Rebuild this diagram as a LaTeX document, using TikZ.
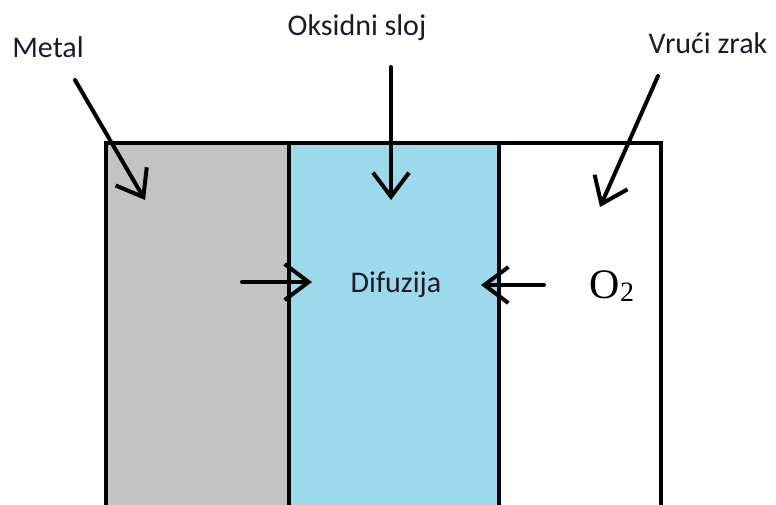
\documentclass[tikz,border=0pt]{standalone}
\usepackage{fontspec}
\setmainfont{Carlito}
\newfontfamily\serifO{Liberation Serif}
\usetikzlibrary{arrows.meta}
\definecolor{metalgray}{HTML}{C3C3C3}
\definecolor{oxideblue}{HTML}{9CD9EA}
\definecolor{labeltext}{HTML}{1A1A2A}
\tikzset{
  lbl/.style={font=\fontsize{30}{30}\selectfont, text=labeltext, inner sep=0pt, anchor=base},
  pointer/.style={line width=4pt, line cap=round, line join=round,
    -{Straight Barb[length=24pt,width=36pt]}},
  wall/.style={line width=4pt, draw=black}
}
\begin{document}
\begin{tikzpicture}[x=1pt,y=-1pt]
\useasboundingbox (0,0) rectangle (776,504);
% layers
\fill[metalgray] (106,143) rectangle (288.5,510);
\fill[oxideblue] (288.5,143) rectangle (498.5,510);
\fill[white] (498.5,143) rectangle (661,510);
\draw[wall, line join=miter] (106,510) -- (106,143) -- (661,143) -- (661,510);
\draw[wall] (288.5,143) -- (288.5,510);
\draw[wall] (498.5,143) -- (498.5,510);
% labels
\node[lbl] (metal) at (48,57) {Metal};
\node[lbl] (oks) at (357,35) {Oksidni sloj};
\node[lbl] (zrak) at (708,53) {Vrući zrak};
\node[lbl] (dif) at (396,292) {Difuzija};
\node[inner sep=0pt, anchor=base, font=\serifO\fontsize{42}{42}\selectfont] (o2) at (612,298) {O\raisebox{-3pt}{\fontsize{28}{28}\selectfont 2}};
% arrow coordinates
\coordinate (metalS) at (75,80);
\coordinate (metalT) at (145,200);
\coordinate (oksS) at (391,67);
\coordinate (oksT) at (391,200);
\coordinate (zrakS) at (658,76);
\coordinate (zrakT) at (600,207);
\coordinate (difLS) at (242,282);
\coordinate (difLT) at (312,282);
\coordinate (difRS) at (544,285);
\coordinate (difRT) at (481,285);
\draw[pointer] (metalS) -- (metalT);
\draw[pointer] (oksS) -- (oksT);
\draw[pointer] (zrakS) -- (zrakT);
\draw[pointer] (difLS) -- (difLT);
\draw[pointer] (difRS) -- (difRT);
\end{tikzpicture}
\end{document}
